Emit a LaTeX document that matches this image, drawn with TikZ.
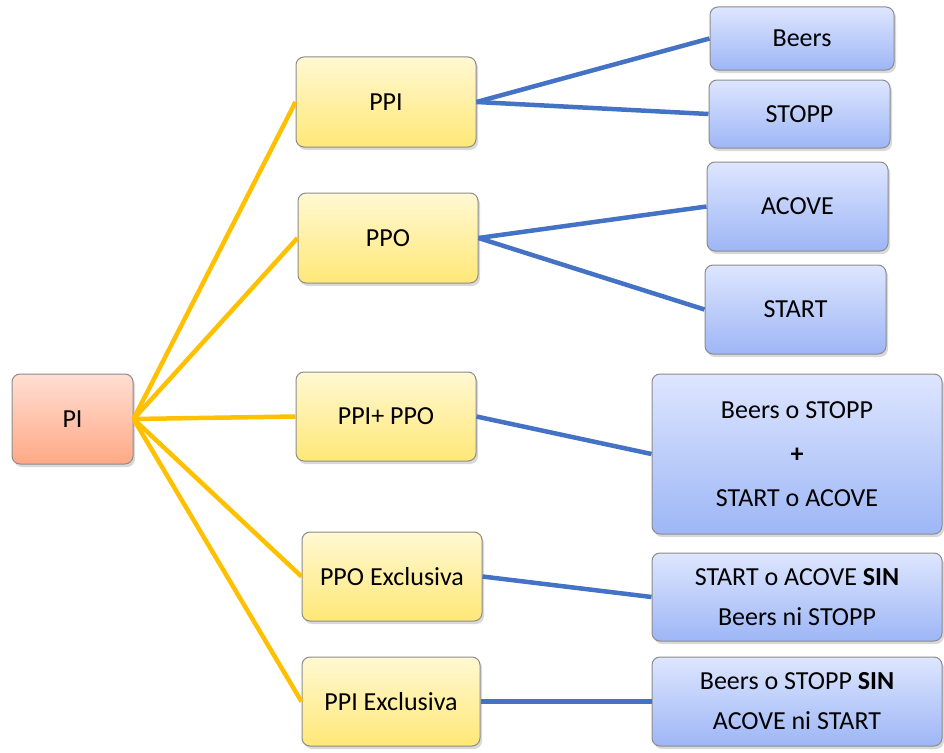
\documentclass[tikz,border=0pt]{standalone}
\usepackage{fontspec}
\setmainfont{Carlito}
\usetikzlibrary{shadows}
\definecolor{yline}{HTML}{FFC000}
\definecolor{bline}{HTML}{4472C4}
\definecolor{rtop}{HTML}{FFDED3}
\definecolor{rbot}{HTML}{FFA985}
\definecolor{ytop}{HTML}{FFF8D2}
\definecolor{ybot}{HTML}{FFE877}
\definecolor{btop}{HTML}{DEE6FF}
\definecolor{bbot}{HTML}{9DB6F6}
\tikzset{basebox/.style={draw=black!45,line width=1pt,rounded corners=8pt,align=center,inner sep=0pt,
  font=\fontsize{26}{40}\selectfont,drop shadow={opacity=0.3,shadow xshift=2pt,shadow yshift=-3pt}}}
\tikzset{rbox/.style={basebox,top color=rtop,bottom color=rbot}}
\tikzset{ybox/.style={basebox,top color=ytop,bottom color=ybot}}
\tikzset{bbox/.style={basebox,top color=btop,bottom color=bbot}}
\tikzset{ylink/.style={draw=yline,line width=4.5pt}}
\tikzset{blink/.style={draw=bline,line width=4.5pt}}

\begin{document}
\begin{tikzpicture}[x=1pt,y=-1pt]
    \useasboundingbox (0,0) rectangle (944,752);

    % root
    \node[rbox,minimum width=121pt,minimum height=90pt] (pi) at (72.5,419) {PI};

    % middle column
    \node[ybox,minimum width=180pt,minimum height=90pt] (ppi) at (386,102) {PPI};
    \node[ybox,minimum width=180pt,minimum height=90pt] (ppo) at (388,238) {PPO};
    \node[ybox,minimum width=180pt,minimum height=89pt] (both) at (386,416.5) {PPI+ PPO};
    \node[ybox,minimum width=180pt,minimum height=89pt] (ppoex) at (392,576.5) {PPO Exclusiva};
    \node[ybox,minimum width=178pt,minimum height=89pt] (ppiex) at (391,701.5) {PPI Exclusiva};

    % right column
    \node[bbox,minimum width=184pt,minimum height=63pt] (beers) at (802,38.5) {Beers};
    \node[bbox,minimum width=181pt,minimum height=68pt] (stopp) at (799.5,114) {STOPP};
    \node[bbox,minimum width=181pt,minimum height=89pt] (acove) at (797.5,206.5) {ACOVE};
    \node[bbox,minimum width=181pt,minimum height=89pt] (start) at (795.5,309.5) {START};
    \node[bbox,minimum width=290pt,minimum height=160pt] (combo) at (797,454)
      {Beers o STOPP\\[4pt] \textbf{+}\\[4pt] START o ACOVE};
    \node[bbox,minimum width=290pt,minimum height=88pt] (sinppi) at (797,597)
      {START o ACOVE \textbf{SIN}\\ Beers ni STOPP};
    \node[bbox,minimum width=290pt,minimum height=89pt] (sinppo) at (797,701.5)
      {Beers o STOPP \textbf{SIN}\\ ACOVE ni START};

    \foreach \t in {ppi,ppo,both,ppoex,ppiex}
      \draw[ylink] (pi.east) -- (\t.west);
    \draw[blink] (ppi.east) -- (beers.west);
    \draw[blink] (ppi.east) -- (stopp.west);
    \draw[blink] (ppo.east) -- (acove.west);
    \draw[blink] (ppo.east) -- (start.west);
    \draw[blink] (both.east) -- (combo.west);
    \draw[blink] (ppoex.east) -- (sinppi.west);
    \draw[blink] (ppiex.east) -- (sinppo.west);
\end{tikzpicture}
\end{document}
